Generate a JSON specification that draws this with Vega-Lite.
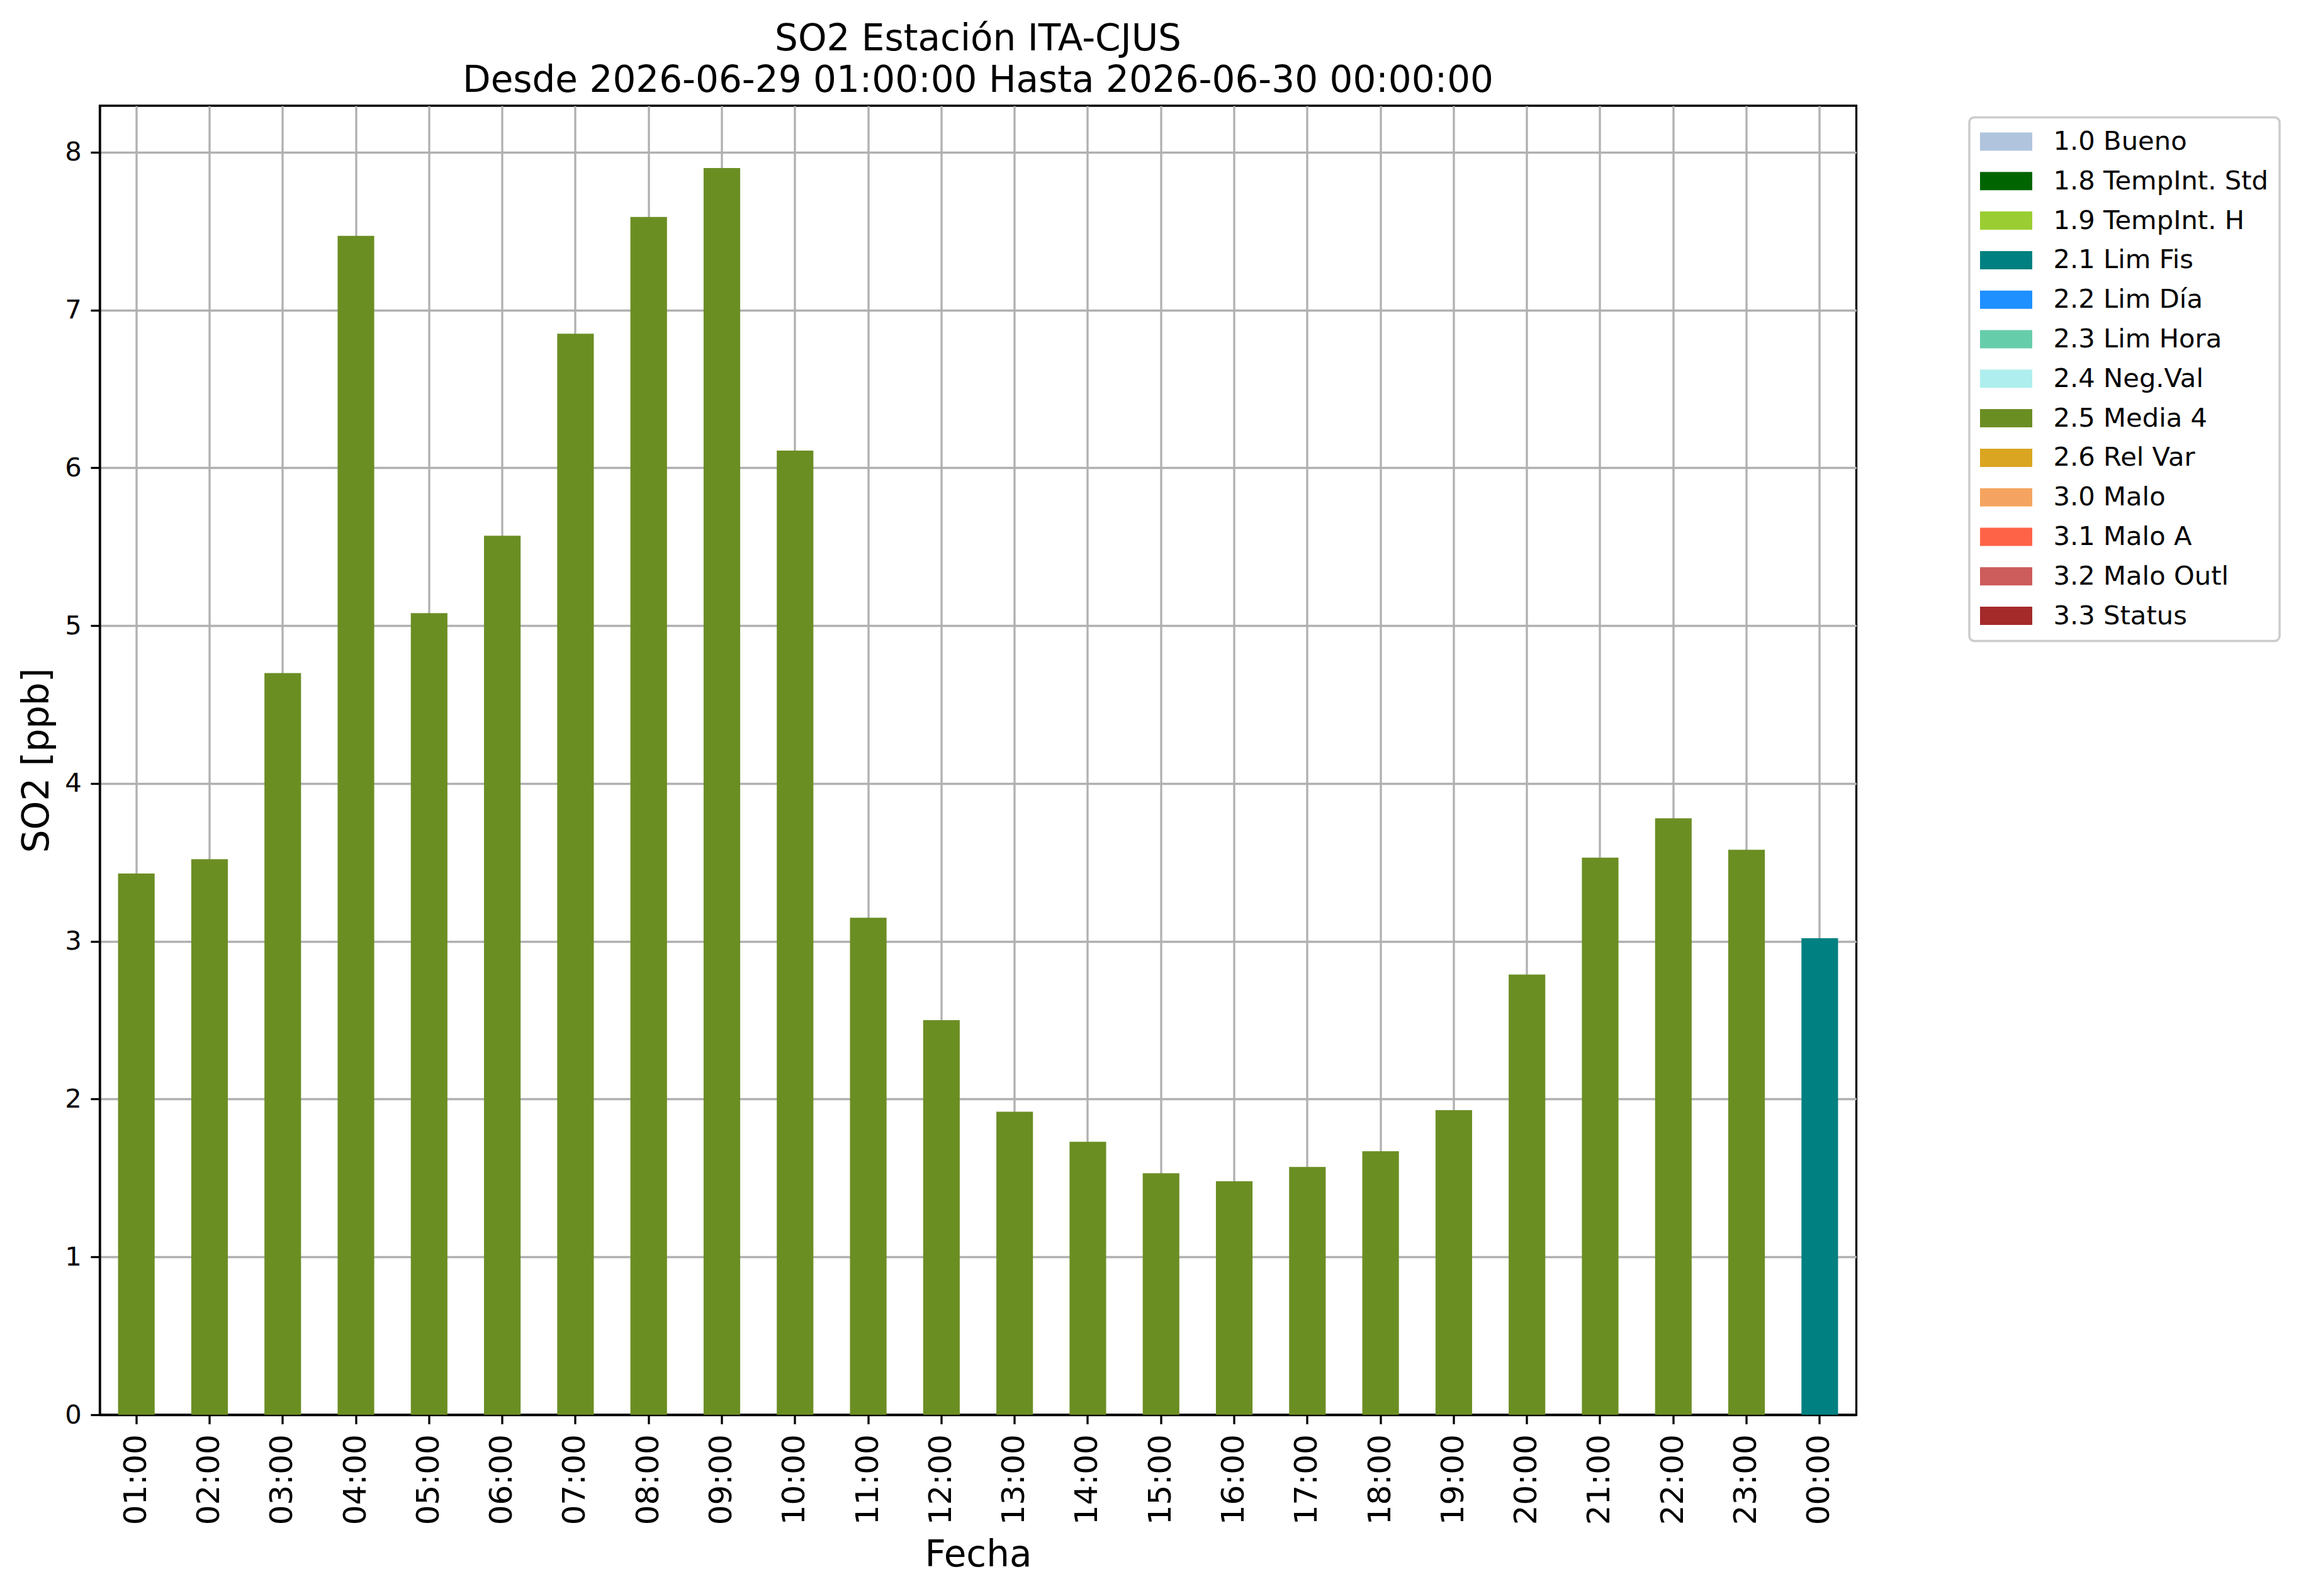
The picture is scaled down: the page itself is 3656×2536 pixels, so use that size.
{
  "$schema": "https://vega.github.io/schema/vega-lite/v6.json",
  "width": 2791,
  "height": 2080,
  "autosize": {"type": "none"},
  "padding": {"left": 158.5, "top": 168, "right": 706.5, "bottom": 288},
  "background": "white",
  "title": {
    "text": ["SO2 Estación ITA-CJUS", "Desde 2026-06-29 01:00:00 Hasta 2026-06-30 00:00:00"],
    "font": "DejaVu Sans",
    "fontSize": 58,
    "fontWeight": "normal",
    "color": "black",
    "anchor": "middle",
    "frame": "group",
    "baseline": "bottom",
    "lineHeight": 66,
    "offset": 13,
    "dy": 61
  },
  "data": {
    "values": [
      {"hora": "01:00", "so2": 3.43, "flag": "2.5 Media 4"},
      {"hora": "02:00", "so2": 3.52, "flag": "2.5 Media 4"},
      {"hora": "03:00", "so2": 4.70, "flag": "2.5 Media 4"},
      {"hora": "04:00", "so2": 7.47, "flag": "2.5 Media 4"},
      {"hora": "05:00", "so2": 5.08, "flag": "2.5 Media 4"},
      {"hora": "06:00", "so2": 5.57, "flag": "2.5 Media 4"},
      {"hora": "07:00", "so2": 6.85, "flag": "2.5 Media 4"},
      {"hora": "08:00", "so2": 7.59, "flag": "2.5 Media 4"},
      {"hora": "09:00", "so2": 7.90, "flag": "2.5 Media 4"},
      {"hora": "10:00", "so2": 6.11, "flag": "2.5 Media 4"},
      {"hora": "11:00", "so2": 3.15, "flag": "2.5 Media 4"},
      {"hora": "12:00", "so2": 2.50, "flag": "2.5 Media 4"},
      {"hora": "13:00", "so2": 1.92, "flag": "2.5 Media 4"},
      {"hora": "14:00", "so2": 1.73, "flag": "2.5 Media 4"},
      {"hora": "15:00", "so2": 1.53, "flag": "2.5 Media 4"},
      {"hora": "16:00", "so2": 1.48, "flag": "2.5 Media 4"},
      {"hora": "17:00", "so2": 1.57, "flag": "2.5 Media 4"},
      {"hora": "18:00", "so2": 1.67, "flag": "2.5 Media 4"},
      {"hora": "19:00", "so2": 1.93, "flag": "2.5 Media 4"},
      {"hora": "20:00", "so2": 2.79, "flag": "2.5 Media 4"},
      {"hora": "21:00", "so2": 3.53, "flag": "2.5 Media 4"},
      {"hora": "22:00", "so2": 3.78, "flag": "2.5 Media 4"},
      {"hora": "23:00", "so2": 3.58, "flag": "2.5 Media 4"},
      {"hora": "00:00", "so2": 3.02, "flag": "2.1 Lim Fis"}
    ]
  },
  "mark": {"type": "bar"},
  "encoding": {
    "x": {
      "field": "hora",
      "type": "nominal",
      "sort": null,
      "scale": {"paddingInner": 0.5, "paddingOuter": 0.25},
      "axis": {
        "title": "Fecha",
        "bandPosition": 0.5,
        "labelAngle": 270,
        "labelFontSize": 50,
        "labelPadding": 16,
        "titlePadding": 20
      }
    },
    "y": {
      "field": "so2",
      "type": "quantitative",
      "scale": {"domain": [0, 8.295], "nice": false},
      "axis": {
        "title": "SO2 [ppb]",
        "values": [0, 1, 2, 3, 4, 5, 6, 7, 8],
        "labelFontSize": 41.7,
        "labelPadding": 14.6,
        "titlePadding": 14
      }
    },
    "color": {
      "field": "flag",
      "type": "nominal",
      "scale": {
        "domain": ["1.0 Bueno", "1.8 TempInt. Std", "1.9 TempInt. H", "2.1 Lim Fis", "2.2 Lim Día", "2.3 Lim Hora", "2.4 Neg.Val", "2.5 Media 4", "2.6 Rel Var", "3.0 Malo", "3.1 Malo A", "3.2 Malo Outl", "3.3 Status"],
        "range": ["#B0C4DE", "#006400", "#9ACD32", "#008080", "#1E90FF", "#66CDAA", "#AFEEEE", "#6B8E23", "#DAA520", "#F4A460", "#FF6347", "#CD5C5C", "#A52A2A"]
      },
      "legend": {
        "title": null,
        "orient": "none",
        "legendX": 2970.5,
        "legendY": 18.5
      }
    }
  },
  "config": {
    "font": "DejaVu Sans",
    "view": {"stroke": "black", "strokeWidth": 3.3},
    "axis": {
      "zindex": 1,
      "labelFont": "DejaVu Sans",
      "labelColor": "black",
      "titleFont": "DejaVu Sans",
      "titleFontSize": 58,
      "titleFontWeight": "normal",
      "titleColor": "black",
      "domainColor": "black",
      "domainWidth": 3.3,
      "tickColor": "black",
      "tickWidth": 3.3,
      "tickSize": 14.6,
      "grid": true,
      "gridColor": "#b0b0b0",
      "gridWidth": 3.3
    },
    "legend": {
      "symbolType": "M-2,-0.7H2V0.7H-2Z",
      "symbolSize": 1722,
      "symbolStrokeWidth": 0,
      "symbolOpacity": 1,
      "symbolOffset": 20,
      "labelOffset": 54,
      "labelFont": "DejaVu Sans",
      "labelFontSize": 41.7,
      "labelColor": "black",
      "labelLimit": 0,
      "rowPadding": 19.8,
      "padding": 17.5,
      "strokeColor": "#cccccc",
      "strokeWidth": 3.5,
      "fillColor": "white",
      "cornerRadius": 8
    }
  }
}
